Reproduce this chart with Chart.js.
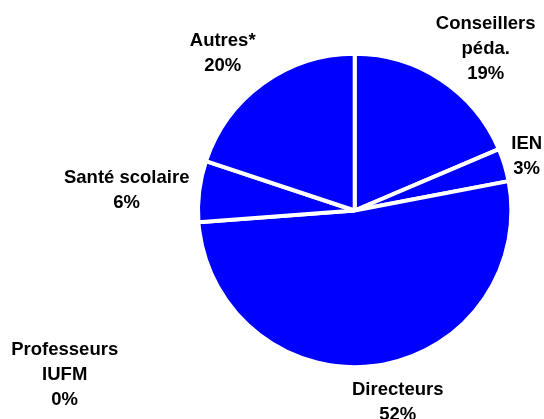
<!DOCTYPE html>
<html>
<head>
<meta charset="utf-8">
<script src="https://cdn.jsdelivr.net/npm/chart.js@4/dist/chart.umd.min.js"></script>
<style>
  html, body { margin: 0; padding: 0; background: #fff; }
  #wrap { width: 544px; height: 419px; }
</style>
</head>
<body>
<div id="wrap"><canvas id="pie" width="544" height="419"></canvas></div>
<script>
// Données
const categories = ['Conseillers\npéda.', 'IEN', 'Directeurs', 'Professeurs\nIUFM', 'Santé scolaire', 'Autres*'];
const sliceValues = [18.6, 3.4, 51.8, 0, 6.3, 19.9];
const shownPercents = [19, 3, 52, 0, 6, 20];

// Position des étiquettes (décalage par rapport au centre, première ligne de base)
const labelOffsets = [
    [131, -182],
    [172, -62],
    [43, 184],
    [-290, 144],
    [-228, -28],
    [-132, -165]
];

const FONT = 'bold 18.5px "Liberation Sans", Arial, sans-serif';
const LINE_HEIGHT = 25;

// Plugin pour dessiner les étiquettes à l'extérieur
const outsideLabels = {
    id: 'outsideLabels',
    afterDraw(chart) {
        const ctx = chart.ctx;
        const arcs = chart.getDatasetMeta(0).data;
        if (!arcs.length) return;
        const cx = arcs[0].x;
        const cy = arcs[0].y;
        ctx.save();
        ctx.font = FONT;
        ctx.fillStyle = '#000';
        ctx.textAlign = 'center';
        ctx.textBaseline = 'alphabetic';
        categories.forEach((cat, i) => {
            const lines = cat.split('\n').concat([shownPercents[i] + '%']);
            const x = cx + labelOffsets[i][0];
            let y = cy + labelOffsets[i][1];
            lines.forEach(line => {
                ctx.fillText(line, x, y);
                y += LINE_HEIGHT;
            });
        });
        ctx.restore();
    }
};

const chart = new Chart(document.getElementById('pie').getContext('2d'), {
    type: 'pie',
    data: {
        labels: categories,
        datasets: [{
            data: sliceValues,
            backgroundColor: '#0000FF',
            borderColor: '#FFFFFF',
            borderWidth: 4,
            radius: 156.7
        }]
    },
    options: {
        responsive: false,
        animation: false,
        layout: {
            padding: { left: 165.4, right: 0, top: 2, bottom: 0 }
        },
        plugins: {
            legend: { display: false },
            tooltip: { enabled: false },
            title: { display: false }
        }
    },
    plugins: [outsideLabels]
});
</script>
</body>
</html>
